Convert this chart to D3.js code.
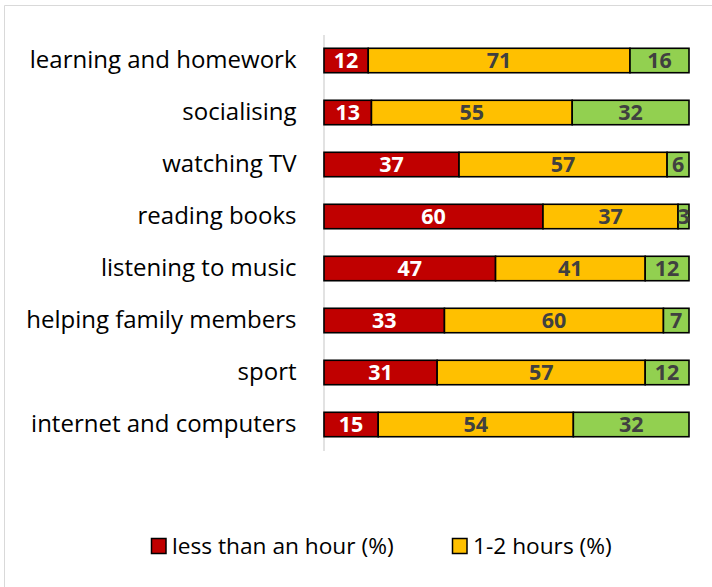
<!DOCTYPE html>
<html>
<head>
<meta charset="utf-8">
<script src="https://cdn.jsdelivr.net/npm/d3@7"></script>
<style>
  html, body { margin: 0; padding: 0; background: #fff; }
  svg { display: block; }
  text { font-family: "Open Sans", sans-serif; }
</style>
</head>
<body>
<svg id="chart" width="712" height="587"></svg>
<script>
// Activities, top to bottom
const activities = [
  "learning and homework",
  "socialising",
  "watching TV",
  "reading books",
  "listening to music",
  "helping family members",
  "sport",
  "internet and computers"
];
const lessThanHour = [12, 13, 37, 60, 47, 33, 31, 15];
const oneToTwoHours = [71, 55, 57, 37, 41, 60, 57, 54];
const moreThanTwo = [16, 32, 6, 3, 12, 7, 12, 32];

const seriesNames = ["less than an hour (%)", "1-2 hours (%)", "more than 2 hours (%)"];
const seriesKeys = ["lt1", "h12", "gt2"];
const seriesColors = ["#C00000", "#FFC000", "#92D050"];
const labelColors = ["#FFFFFF", "#404040", "#404040"];

const rows = activities.map((a, i) => ({
  activity: a, lt1: lessThanHour[i], h12: oneToTwoHours[i], gt2: moreThanTwo[i]
}));

const svg = d3.select("#chart");

// light frame of the chart area
svg.append("line").attr("x1", 4.5).attr("x2", 712).attr("y1", 5.5).attr("y2", 5.5)
  .attr("stroke", "#d9d9d9").attr("stroke-width", 1);
svg.append("line").attr("x1", 4.5).attr("x2", 4.5).attr("y1", 5.5).attr("y2", 587)
  .attr("stroke", "#d9d9d9").attr("stroke-width", 1);

const plot = { left: 324, right: 689, top: 34.5, bottom: 450.5 };

const x = d3.scaleLinear().domain([0, 1]).range([plot.left, plot.right]);
const y = d3.scaleBand().domain(activities).range([plot.top, plot.bottom]).paddingInner(0.53).paddingOuter(0.265);

const stacked = d3.stack().keys(seriesKeys).offset(d3.stackOffsetExpand)(rows);

// category axis
const yAxis = d3.axisLeft(y).tickSize(0).tickPadding(27);
const gy = svg.append("g").attr("transform", `translate(${plot.left - 0.5},0)`).call(yAxis);
gy.select(".domain").attr("stroke", "#d9d9d9").attr("stroke-width", 1.5);
gy.selectAll("text").attr("font-size", 24).attr("fill", "#000")
  .style("font-family", "'Open Sans', sans-serif");

// bars
const layers = svg.append("g").selectAll("g").data(stacked).join("g")
  .attr("fill", (d, i) => seriesColors[i]);

layers.selectAll("rect").data(d => d.map(s => ({ s, key: d.key }))).join("rect")
  .attr("x", d => x(d.s[0]))
  .attr("y", d => y(d.s.data.activity))
  .attr("width", d => x(d.s[1]) - x(d.s[0]))
  .attr("height", y.bandwidth())
  .attr("stroke", "#000").attr("stroke-width", 1.6);

// value labels
layers.each(function (d, i) {
  d3.select(this).selectAll("text").data(d).join("text")
    .attr("x", s => (x(s[0]) + x(s[1])) / 2)
    .attr("y", s => y(s.data.activity) + y.bandwidth() / 2)
    .attr("dy", "0.36em")
    .attr("text-anchor", "middle")
    .attr("font-size", 21.5).attr("font-weight", "bold")
    .attr("fill", labelColors[i])
    .text(s => s.data[d.key]);
});

// legend (first two series)
const legendItems = [
  { name: seriesNames[0], color: seriesColors[0], x: 151 },
  { name: seriesNames[1], color: seriesColors[1], x: 452 }
];
const lg = svg.append("g").selectAll("g").data(legendItems).join("g")
  .attr("transform", d => `translate(${d.x},546)`);
lg.append("rect").attr("x", 0.5).attr("y", -7.5).attr("width", 14.5).attr("height", 15)
  .attr("fill", d => d.color).attr("stroke", "#000").attr("stroke-width", 1.5);
lg.append("text").attr("x", 21).attr("dy", "0.36em")
  .attr("font-size", 22.7).attr("fill", "#000").text(d => d.name);
</script>
</body>
</html>
